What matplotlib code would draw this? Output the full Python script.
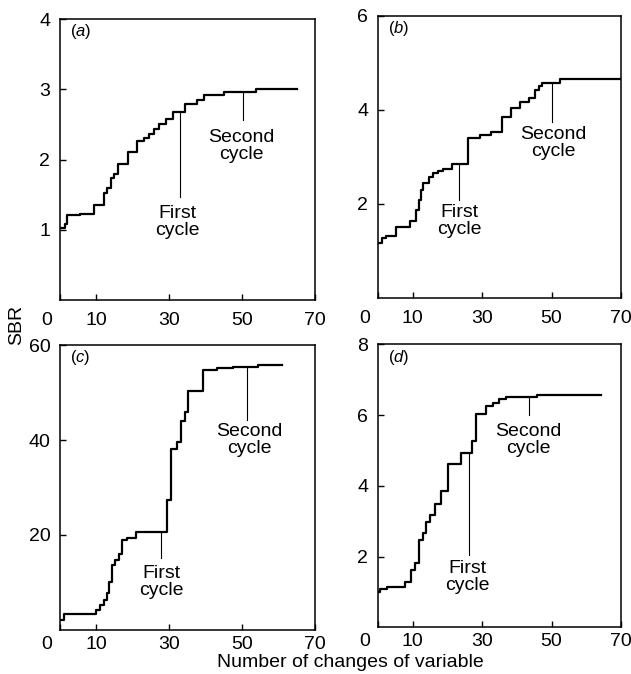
import numpy as np
import matplotlib
matplotlib.use('Agg')
import matplotlib.pyplot as plt
import matplotlib.transforms as mtransforms

plt.rcParams['font.family'] = ['Liberation Sans', 'DejaVu Sans']
plt.rcParams['mathtext.fontset'] = 'custom'
plt.rcParams['mathtext.rm'] = 'Liberation Sans'
plt.rcParams['mathtext.it'] = 'Liberation Sans:italic'

# SBR against number of changes, step series (x where the step starts, level)
a_x = [0.3, 1.5, 2.0, 5.4, 9.4, 12.0, 12.9, 14.0, 14.8, 16.0, 18.8, 21.0, 23.1, 24.5,
       25.8, 27.1, 29.2, 30.9, 34.3, 37.6, 39.5, 45.1, 53.9, 65.1]
a_y = [1.03, 1.08, 1.21, 1.23, 1.35, 1.52, 1.60, 1.74, 1.80, 1.94, 2.10, 2.27, 2.30, 2.36,
       2.43, 2.51, 2.57, 2.67, 2.79, 2.85, 2.92, 2.96, 3.0, 3.0]

b_x = [0, 1.05, 2.3, 5.1, 9.1, 11.0, 11.7, 12.3, 13.1, 14.7, 15.8, 17.2, 18.7, 21.3,
       25.8, 29.4, 32.5, 35.8, 38.4, 41.0, 43.4, 45.3, 46.3, 47.2, 52.5, 70]
b_y = [1.17, 1.27, 1.32, 1.50, 1.64, 1.87, 2.09, 2.30, 2.44, 2.58, 2.65, 2.71, 2.74, 2.84,
       3.40, 3.47, 3.54, 3.86, 4.05, 4.18, 4.26, 4.43, 4.50, 4.57, 4.65, 4.65]

c_x = [0, 1.2, 9.8, 11.0, 12.0, 12.9, 13.5, 14.3, 15.2, 16.2, 17.1, 18.5, 20.8, 29.4,
       30.5, 32.0, 33.2, 34.2, 35.2, 39.2, 43.2, 47.5, 54.4, 60.9]
c_y = [2.1, 3.3, 4.2, 5.3, 6.3, 7.7, 10.2, 13.7, 14.7, 16.1, 18.9, 19.4, 20.7, 27.4,
       38.2, 39.5, 43.9, 46.0, 50.3, 54.7, 55.1, 55.3, 55.8, 55.8]

d_x = [0, 0.6, 2.5, 7.7, 9.4, 10.8, 11.8, 12.9, 13.9, 15.1, 16.3, 18.2, 20.1, 23.9,
       27.2, 28.2, 31.1, 33.0, 34.9, 36.8, 45.8, 64.3]
d_y = [1.01, 1.10, 1.15, 1.29, 1.62, 1.83, 2.47, 2.66, 2.99, 3.18, 3.49, 3.86, 4.61, 4.92,
       5.27, 6.03, 6.26, 6.35, 6.45, 6.52, 6.57, 6.57]

panel_names = ['a', 'b', 'c', 'd']
y_max = [4, 6, 60, 8]
y_ticks = [[1, 2, 3, 4], [2, 4, 6], [20, 40, 60], [2, 4, 6, 8]]
x_ticks = [0, 10, 30, 50, 70]

# cycle markers: x of the marker, bottom of its line, centre of its label
first_mark = [(32.9, 1.47, 32.1, 1.11), (23.4, 2.09, 23.4, 1.64),
              (27.8, 15.1, 27.9, 10.1), (26.3, 2.05, 25.8, 1.43)]
second_mark = [(50.2, 2.56, 49.8, 2.19), (50.1, 3.75, 50.6, 3.30),
               (51.3, 44.2, 51.9, 39.9), (43.4, 6.0, 43.4, 5.3)]

series = [(a_x, a_y), (b_x, b_y), (c_x, c_y), (d_x, d_y)]
positions = [[0.0951, 0.5549, 0.4041, 0.4169],
             [0.5990, 0.5579, 0.3851, 0.4184],
             [0.0951, 0.0653, 0.4041, 0.4228],
             [0.5990, 0.0690, 0.3851, 0.4199]]
x_pads = [9, 9, 4, 4]

fig = plt.figure(figsize=(6.31, 6.74), dpi=100)

for i in range(4):
    ax = fig.add_axes(positions[i])
    sx, sy = series[i]
    ax.plot(sx, sy, drawstyle='steps-post', color='black', lw=1.6)

    for mx, mbot, tx, ty in (first_mark[i], second_mark[i]):
        k = np.searchsorted(sx, mx, side='right') - 1
        ax.plot([mx, mx], [sy[k], mbot], color='black', lw=0.8)
    fx, fb, ftx, fty = first_mark[i]
    sx2, sb, stx, sty = second_mark[i]
    ax.text(ftx, fty, 'First\ncycle', ha='center', va='center', fontsize=14, linespacing=1.0)
    ax.text(stx, sty, 'Second\ncycle', ha='center', va='center', fontsize=14, linespacing=1.0)

    ax.text(0.04, 0.955, r'($\mathit{' + panel_names[i] + r'}$)', transform=ax.transAxes,
            ha='left', va='center', fontsize=12)

    ax.set_xlim(0, 70)
    ax.set_ylim(0, y_max[i])
    ax.set_xticks(x_ticks)
    ax.set_xticklabels([str(t) for t in x_ticks])
    ax.set_yticks(y_ticks[i])
    ax.set_yticklabels([str(t) for t in y_ticks[i]])
    ax.tick_params(direction='in', length=4, width=1, labelsize=14)
    ax.tick_params(axis='x', pad=x_pads[i])
    ax.tick_params(axis='y', pad=7)
    for sp in ax.spines.values():
        sp.set_linewidth(1.1)
    # pull the "0" label left of the corner
    zero_lab = ax.get_xticklabels()[0]
    zero_lab.set_transform(zero_lab.get_transform() +
                           mtransforms.ScaledTranslation(-0.13, 0, fig.dpi_scale_trans))

fig.text(0.027, 1 - 325 / 674, 'SBR', rotation=90, ha='center', va='center', fontsize=14)
fig.text(350 / 631, 1 - 667 / 674, 'Number of changes of variable', ha='center', va='baseline',
         fontsize=14)

fig.savefig('out.png', dpi=100)
